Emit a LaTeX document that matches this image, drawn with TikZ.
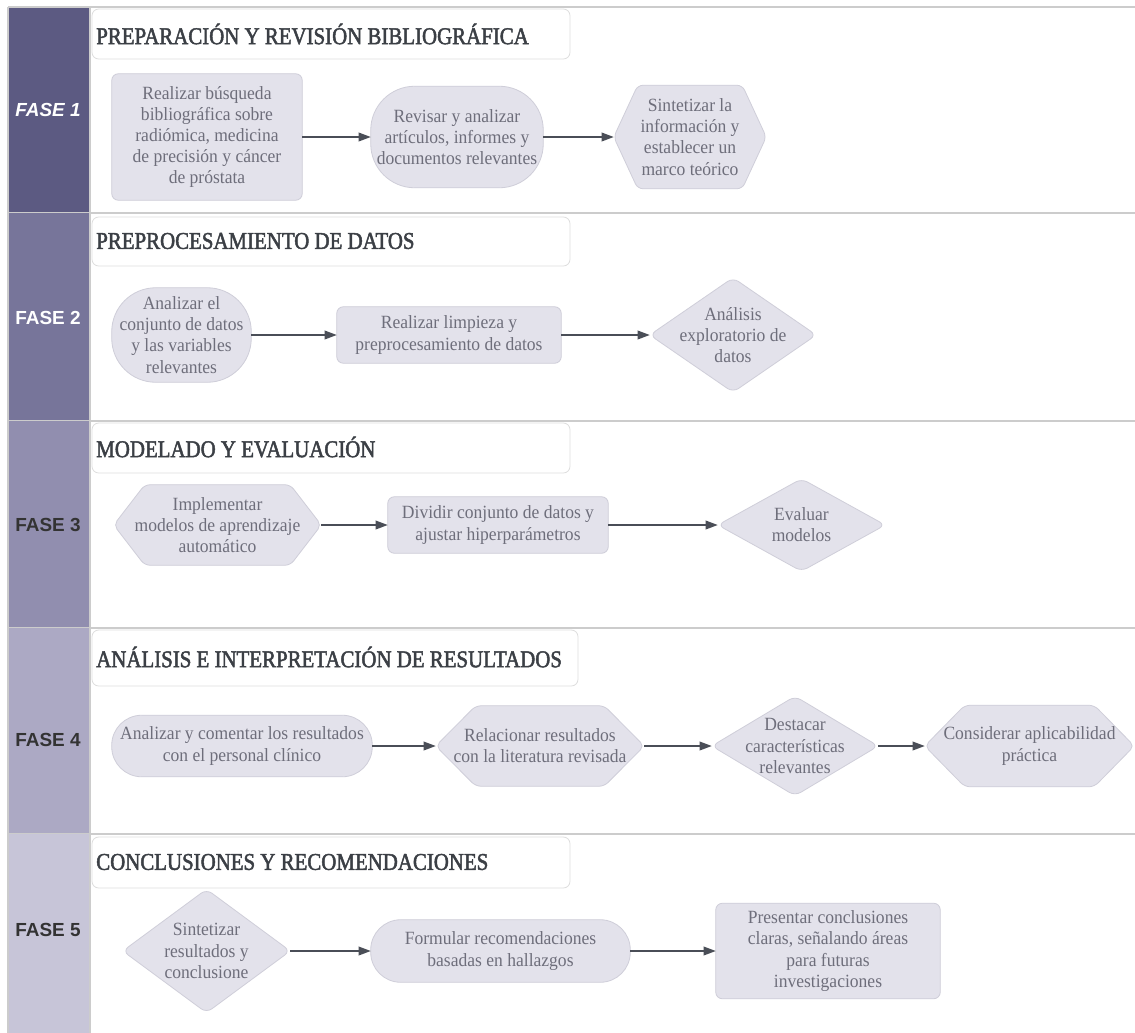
\documentclass[tikz,border=0pt]{standalone}
\usepackage{fontspec}
\setmainfont{Liberation Serif}
\newfontfamily\bodyfont[FakeStretch=0.94]{Liberation Serif}
\newfontfamily\titlefont[FakeStretch=0.87,FakeBold=2]{Liberation Serif}
\newfontfamily\fasefont{Liberation Sans}
\usetikzlibrary{arrows.meta,backgrounds}
\newcommand\pxs{0.75pt}
\definecolor{band1}{HTML}{5C5A82}
\definecolor{band2}{HTML}{77759A}
\definecolor{band3}{HTML}{918EAF}
\definecolor{band4}{HTML}{ACA9C4}
\definecolor{band5}{HTML}{C7C5D8}
\definecolor{lanec}{HTML}{CCCCCC}
\definecolor{titleedge}{HTML}{DDDDDD}
\definecolor{titletext}{HTML}{3B3F45}
\definecolor{nodefill}{HTML}{E3E2EB}
\definecolor{nodeedge}{HTML}{CFCED9}
\definecolor{bodytext}{HTML}{6E6E7B}
\definecolor{arrowc}{HTML}{4A4E57}
\definecolor{fasedark}{HTML}{333333}
\begin{document}
\begin{tikzpicture}[x=0.75pt,y=-0.75pt,
  bodytxt/.style={rectangle, inner sep=0pt, align=center, text=bodytext,
    font=\bodyfont\fontsize{14}{15.9}\selectfont},
  shp/.style={fill=nodefill, draw=nodeedge, line width=0.6pt},
  conn/.style={draw=arrowc, line width=1pt, -{Triangle[length=9pt,width=6.5pt]}},
  ttl/.style={anchor=west, inner sep=0pt, text=titletext,
    font=\titlefont\fontsize{18}{20}\selectfont},
  faselbl/.style={inner sep=0pt, text=white,
    font=\fasefont\bfseries\fontsize{14.2}{16}\selectfont},
  tbox/.style={fill=white, draw=titleedge, line width=0.6pt, rounded corners=5pt},
  ]
\useasboundingbox (0,0) rectangle (1135,1032);
\begin{pgfonlayer}{background}
  \fill[white] (0,0) rectangle (1135,1032);
  \foreach \t/\b/\c in {7/213/band1, 213/421/band2, 421/628/band3, 628/834/band4, 834/1040/band5}{
    \fill[\c] (8,\t) rectangle (89,\b);
    \draw[lanec, line width=1pt] (8,\b) -- (1135,\b);
  }
  \draw[lanec, line width=1pt] (8,7) -- (1135,7);
  \draw[lanec, line width=1pt] (8,7) -- (8,1040);
  \draw[lanec, line width=1pt] (90,7) -- (90,1040);
  \draw[tbox] (92,9) rectangle (570,59);
  \draw[tbox] (92,217) rectangle (570,266);
  \draw[tbox] (92,423) rectangle (570,473);
  \draw[tbox] (92,630) rectangle (578,686);
  \draw[tbox] (92,837) rectangle (570,888);
\end{pgfonlayer}

% titles
\node[ttl] (t1) at (96,34) {PREPARACIÓN Y REVISIÓN BIBLIOGRÁFICA};
\node[ttl] (t2) at (96,241) {PREPROCESAMIENTO DE DATOS};
\node[ttl] (t3) at (96,447) {MODELADO Y EVALUACIÓN};
\node[ttl] (t4) at (96,657) {ANÁLISIS E INTERPRETACIÓN DE RESULTADOS};
\node[ttl] (t5) at (96,862) {CONCLUSIONES Y RECOMENDACIONES};

% phase labels
\node[faselbl] (f1) at (48,110) {\itshape FASE 1};
\node[faselbl] (f2) at (48,318) {FASE 2};
\node[faselbl, text=fasedark] (f3) at (48,525) {FASE 3};
\node[faselbl, text=fasedark] (f4) at (48,740) {FASE 4};
\node[faselbl, text=fasedark] (f5) at (48,930) {FASE 5};

% lane 1
\node[bodytxt, minimum width=190*\pxs, minimum height=126*\pxs] (n11) at (207,137)
  {Realizar búsqueda\\bibliográfica sobre\\radiómica, medicina\\de precisión y cáncer\\de próstata};
\node[bodytxt, minimum width=172*\pxs, minimum height=101*\pxs] (n12) at (457,137)
  {Revisar y analizar\\artículos, informes y\\documentos relevantes};
\node[bodytxt, minimum width=152*\pxs, minimum height=103*\pxs] (n13) at (690,137)
  {Sintetizar la\\información y\\establecer un\\marco teórico};
% lane 2
\node[bodytxt, minimum width=139*\pxs, minimum height=94*\pxs] (n21) at (181.5,335)
  {Analizar el\\conjunto de datos\\y las variables\\relevantes};
\node[bodytxt, minimum width=224*\pxs, minimum height=56*\pxs] (n22) at (449,335)
  {Realizar limpieza y\\preprocesamiento de datos};
\node[bodytxt, minimum width=166*\pxs, minimum height=114*\pxs] (n23) at (733,335)
  {Análisis\\exploratorio de\\datos};
% lane 3
\node[bodytxt, minimum width=207*\pxs, minimum height=80*\pxs] (n31) at (217.5,525)
  {Implementar\\modelos de aprendizaje\\automático};
\node[bodytxt, minimum width=220*\pxs, minimum height=56*\pxs] (n32) at (498,525)
  {Dividir conjunto de datos y\\ajustar hiperparámetros};
\node[bodytxt, minimum width=167*\pxs, minimum height=92*\pxs] (n33) at (801.5,525)
  {Evaluar\\modelos};
% lane 4
\node[bodytxt, minimum width=260*\pxs, minimum height=61*\pxs] (n41) at (242,746)
  {Analizar y comentar los resultados\\con el personal clínico};
\node[bodytxt, minimum width=208*\pxs, minimum height=80*\pxs] (n42) at (540,746)
  {Relacionar resultados\\con la literatura revisada};
\node[bodytxt, minimum width=166*\pxs, minimum height=99*\pxs] (n43) at (795,746)
  {Destacar\\características\\relevantes};
\node[bodytxt, minimum width=209*\pxs, minimum height=81*\pxs] (n44) at (1029.5,746)
  {Considerar aplicabilidad\\práctica};
% lane 5
\node[bodytxt, minimum width=167*\pxs, minimum height=123*\pxs] (n51) at (206.5,951)
  {Sintetizar\\resultados y\\conclusione};
\node[bodytxt, minimum width=259*\pxs, minimum height=62*\pxs] (n52) at (500.5,951)
  {Formular recomendaciones\\basadas en hallazgos};
\node[bodytxt, minimum width=224*\pxs, minimum height=95*\pxs] (n53) at (828,951)
  {Presentar conclusiones\\claras, señalando áreas\\para futuras\\investigaciones};

% shapes behind the texts
\begin{pgfonlayer}{background}
  % rectangles
  \foreach \n in {n11,n22,n32,n53}{
    \draw[shp, rounded corners=5pt] (\n.south west) rectangle (\n.north east);
  }
  % rounded (stadium-like)
  \draw[shp, rounded corners=33pt] (n12.south west) rectangle (n12.north east);
  \draw[shp, rounded corners=33pt] (n21.south west) rectangle (n21.north east);
  \draw[shp, rounded corners=22.5pt] (n41.south west) rectangle (n41.north east);
  \draw[shp, rounded corners=22.5pt] (n52.south west) rectangle (n52.north east);
  % hexagons
  \foreach \n/\d in {n13/24, n31/31, n42/40, n44/40}{
    \draw[shp, rounded corners=4pt] (\n.west) -- ([xshift=\d*\pxs]\n.north west)
      -- ([xshift=-\d*\pxs]\n.north east) -- (\n.east)
      -- ([xshift=-\d*\pxs]\n.south east) -- ([xshift=\d*\pxs]\n.south west) -- cycle;
  }
  % diamonds
  \foreach \n in {n23,n33,n43,n51}{
    \draw[shp, rounded corners=5pt] (\n.west) -- (\n.north) -- (\n.east) -- (\n.south) -- cycle;
  }
\end{pgfonlayer}

% connectors
\draw[conn] (n11.east) -- (n12.west);
\draw[conn] (n12.east) -- (n13.west);
\draw[conn] (n21.east) -- (n22.west);
\draw[conn] (n22.east) -- (n23.west);
\draw[conn] (n31.east) -- (n32.west);
\draw[conn] (n32.east) -- (n33.west);
\draw[conn] (n41.east) -- (n42.west);
\draw[conn] (n42.east) -- (n43.west);
\draw[conn] (n43.east) -- (n44.west);
\draw[conn] (n51.east) -- (n52.west);
\draw[conn] (n52.east) -- (n53.west);
\end{tikzpicture}
\end{document}
